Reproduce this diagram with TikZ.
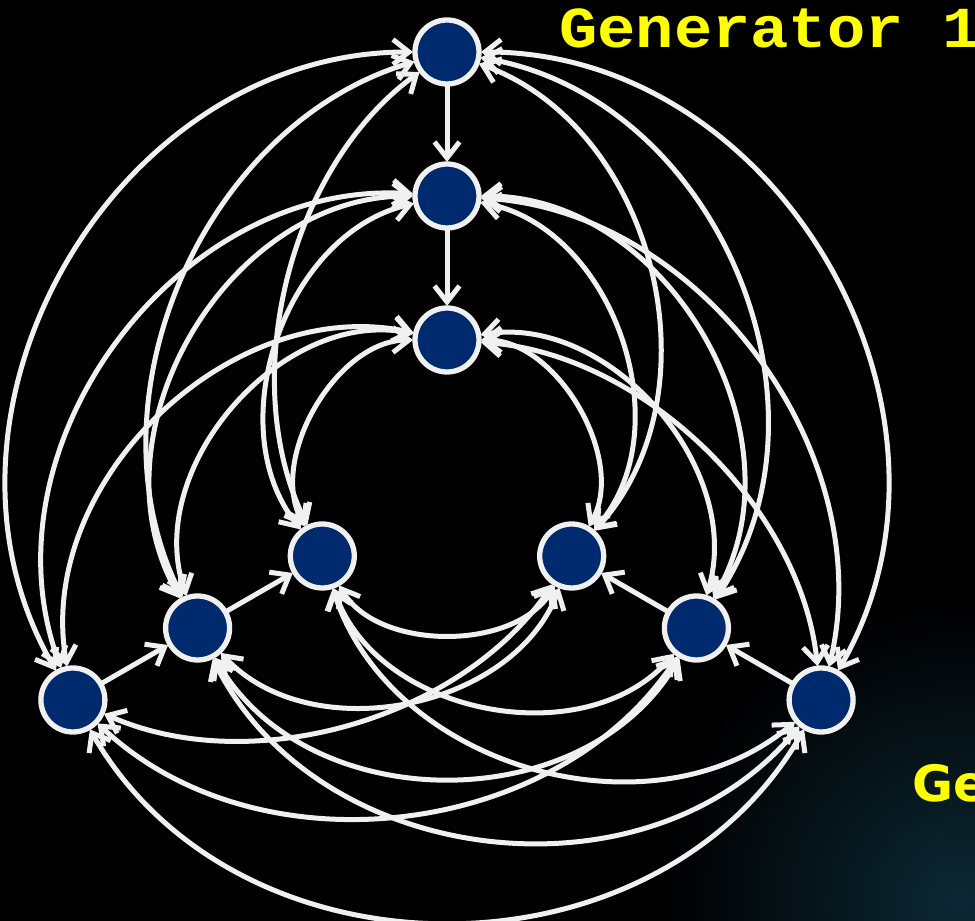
\documentclass[tikz,border=0pt]{standalone}
\usepackage{fontspec}
\newfontfamily\genfont{Liberation Mono}
\newfontfamily\gefont{DejaVu Sans}
\usetikzlibrary{arrows.meta}
\definecolor{nodeblue}{RGB}{0,42,110}
\definecolor{edgewhite}{RGB}{240,240,240}
\definecolor{labelyellow}{RGB}{255,255,0}
\definecolor{glow}{RGB}{12,40,52}
\begin{document}
\begin{tikzpicture}[x=1pt,y=1pt,
  vert/.style={circle, draw=edgewhite, line width=5.3pt, fill=nodeblue, minimum size=64pt, inner sep=0pt},
  tip/.tip={Straight Barb[length=16pt,width=25pt]},
  link/.style={draw=edgewhite, line width=5pt, shorten <=34pt, shorten >=34pt},
  both/.style={link, tip-tip},
  one/.style={link, -tip},
  lab/.style={anchor=base west, inner sep=0pt, text=labelyellow}]
\useasboundingbox (0,0) rectangle (975,921);
\fill[black] (0,0) rectangle (975,921);
\begin{scope}
\clip (0,0) rectangle (975,921);
\shade[inner color=glow, outer color=black] (960,20) circle (300);
\end{scope}
% nodes
\node[vert] (T0) at (447,869) {};
\node[vert] (T1) at (447,725) {};
\node[vert] (T2) at (447,581) {};
\node[vert] (L0) at (72.9,221) {};
\node[vert] (L1) at (197.6,293) {};
\node[vert] (L2) at (322.3,365) {};
\node[vert] (R0) at (821.1,221) {};
\node[vert] (R1) at (696.4,293) {};
\node[vert] (R2) at (571.7,365) {};
% cross edges (bend angle depends on the pair of levels)
\foreach \i in {0,1,2}{
  \foreach \j in {0,1,2}{
    \pgfmathtruncatemacro\bd{{60,50,40,57,60,58,56,60,60}[3*\i+\j]}
    \pgfmathsetmacro\lo{(2/3)*tan(\bd/2)/sin(\bd)/0.3915}
    \draw[both, bend right=\bd, looseness=\lo] (L\i.center) to (R\j.center);
    \draw[both, bend right=\bd, looseness=\lo] (R\i.center) to (T\j.center);
    \draw[both, bend right=\bd, looseness=\lo] (T\i.center) to (L\j.center);
  }
}
% arm edges
\draw[one] (T0.center) -- (T1.center);
\draw[one] (T1.center) -- (T2.center);
\draw[one] (L0.center) -- (L1.center);
\draw[one] (L1.center) -- (L2.center);
\draw[one] (R0.center) -- (R1.center);
\draw[one] (R1.center) -- (R2.center);
% labels
\node[lab, font=\genfont\bfseries\fontsize{58}{58}\selectfont] (gen1) at (559,873) {\scalebox{1.1}[1]{Generator 1}};
\node[lab, font=\gefont\bfseries\fontsize{50}{50}\selectfont] (gen2) at (912,119) {Ge};
\end{tikzpicture}
\end{document}
